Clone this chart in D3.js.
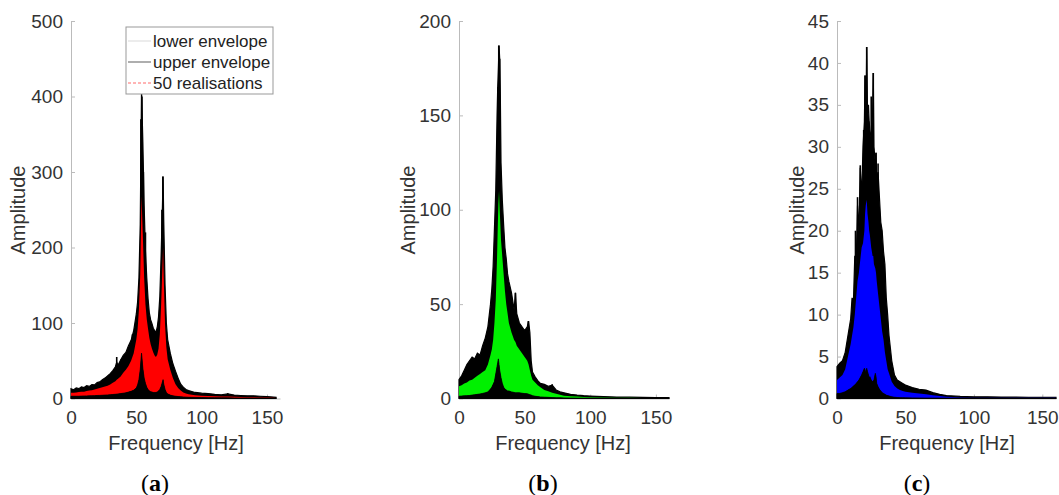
<!DOCTYPE html>
<html>
<head>
<meta charset="utf-8">
<script src="https://cdn.jsdelivr.net/npm/d3@7"></script>
<style>
  body { margin: 0; background: #fff; }
  svg { display: block; }
  .tick text { fill: #333; }
</style>
</head>
<body>
<div id="chart"></div>
<script>
// three spectra: envelopes + realisations

// panel (a)
var freqA  = [0,2,4,6,8,10,12,14,16,18,20,22,24,26,28,30,32,34,35,36,38,40,42,44,46,48,50,51,52,53,54,55,56,57,58,59,60,61,62,63,64,65,66,67,68,69,70,70.5,71,72,73,74,76,78,80,82,84,86,88,90,95,100,105,110,115,120,125,130,135,140,145,150,155,157];
var upperA = [13,11.5,14,13,15.5,14.5,17,16,18.5,18,21,22,25,27,30,33,37,42,48,44,51,57,61,70,77,90,112,128,160,230,410,340,255,195,160,132,113,104,99,93,90,88,94,108,135,190,255,294,235,150,100,78,60,46,36,27,19,15,12,10.5,8,7,6.5,5.5,5,6,4.5,4,3.5,3.5,3,2.5,2,1.5];
var fillA  = [7.5,7.5,8,8.5,9,9,10,10.5,11,12,13,14,15,16,17,18.5,21,23,25,26,29,34,38,43,50,60,78,92,118,165,268,215,160,125,105,92,80,72,66,61,57,55,58,66,85,125,175,200,160,98,68,52,38,27,19,14,10.5,8,6.5,5.5,4.2,3.5,3.2,3,2.8,2.6,2.3,2,1.8,1.6,1.4,1.2,1,0.8];
var lowerA = [3,3,3,3,3.2,3.3,3.4,3.5,3.6,3.8,4,4.1,4.3,4.5,4.7,5,5.3,5.6,5.8,6,6.5,7,7.5,8.5,9.5,11,14,18,25,38,60,40,27,20,15,12,10,9,8.5,8,8,8,8.5,10,12,16,22,25,19,12,8,6,4.5,3.5,3,2.6,2.3,2,1.8,1.6,1.4,1.2,1.1,1,0.9,0.9,0.8,0.7,0.7,0.6,0.6,0.5,0.5,0.4];
var spikeFreqA = [35,38.5,47,53.5,54.3,55.4,57,69.6,70.3,120];
var spikeAmpA  = [55,52,85,370,400,300,220,250,294,7];

// panel (b)
var freqB  = [0,2,4,6,8,10,12,14,16,18,20,22,24,25,26,27,28,29,29.5,30,30.5,31,31.5,32,33,34,35,36,37,38,40,42,43,44,46,48,50,52,53,54,55,56,58,60,62,65,68,71,74,77,80,85,90,95,100,110,120,130,140,150,160];
var upperB = [10,12,15,18,20,22,21,24,23,28,32,38,50,58,70,90,110,150,165,175,187,180,160,125,105,92,80,74,66,62,56,47,56,45,40,38,36,38,41,35,20,14,11.5,9.5,8,7.5,6.5,7,4.5,3.5,3,2.2,1.8,1.5,1.3,1,0.8,0.7,0.6,0.5,0.5];
var fillB  = [6.5,7,8,8.5,9.5,10,11,12,13,14,15,18,23,26,31,40,52,75,90,103,110,100,92,84,75,66,57,50,45,40,35,31,30,28,26,24,22,20,18,15,12,10,8.5,7,6,4.5,3.8,3,2.5,2,1.5,1.2,1,0.8,0.6,0.5,0.4,0.35,0.3,0.3,0.3];
var lowerB = [1.2,1.3,1.4,1.5,1.6,1.8,2,2.2,2.4,2.7,3,3.5,5,6,7.5,9,13,17,19,21,18,15,13,11,8,6,5,4.5,4,4,3.5,3.2,3,3,3,2.8,2.6,2.5,2.3,2,1.8,1.5,1.2,1,0.8,0.7,0.6,0.5,0.4,0.4,0.3,0.25,0.2,0.2,0.2,0.2,0.2,0.2,0.2,0.2,0.2];
var spikeFreqB = [29.8,30.3,31,43,52.8,71];
var spikeAmpB  = [165,187,180,56,41,7.5];

// panel (c)
var freqC  = [0,2,4,6,8,10,11,12,13,14,15,16,17,18,19,20,20.5,21,21.7,22.3,23,23.5,24,25,26,26.5,27,28,28.5,29,30,31,32,33,34,35,36,37,38,39,40,42,44,46,48,50,55,60,65,70,75,80,90,100,110,120,130,140,150,160];
var upperC = [3.8,4.2,4.5,5.5,7.5,9.5,12,11.5,17,16,23,20,27.5,24,30,33,38.5,30,41.9,34,35,33,32,31,34,38.8,30,28,29.3,26,27,24,21,20,17.5,16,12,10,7.5,6,4.5,2.8,2.2,2,1.8,1.6,1.3,1.1,1,0.7,0.5,0.35,0.25,0.2,0.2,0.18,0.16,0.15,0.15,0.15];
var fillC  = [2.2,2.5,2.8,3.5,5,6.5,7.5,8.5,10,12,14,15,16.5,18,18.5,20,22,23,23.7,22,21,20,19.5,18,17,17,16,15.5,15,14,12.5,11,9.5,8,7,5.5,4.5,3.5,3,2.5,2,1.5,1.2,1,0.9,0.8,0.7,0.6,0.5,0.4,0.3,0.2,0.12,0.1,0.1,0.09,0.09,0.08,0.08,0.08];
var lowerC = [0.6,0.6,0.7,0.8,1,1.2,1.3,1.5,1.6,1.8,2,2.2,2.5,2.8,3.2,3.6,3.4,3,3.6,3.2,2.8,2.5,2.6,2.2,2,2.1,2.2,3,2.6,1.8,1.4,1.1,0.9,0.7,0.6,0.5,0.4,0.35,0.3,0.25,0.2,0.15,0.12,0.1,0.1,0.08,0.07,0.06,0.05,0.05,0.05,0.05,0.05,0.05,0.05,0.05,0.05,0.05,0.05,0.05];
var spikeFreqC = [13.5,15,17,19.5,20.5,21.7,23.2,25,26.5,28.5,30];
var spikeAmpC  = [20,24,27.8,32,38.5,41.9,33,36,38.8,29.3,28];

// axis ticks and captions
var ticksA = [0,100,200,300,400,500];
var ticksB = [0,50,100,150,200];
var ticksC = [0,5,10,15,20,25,30,35,40,45];
var xTicks = [0,50,100,150];
var captions = ["a","b","c"];
var legendLabels = ["lower envelope","upper envelope","50 realisations"];

var svgWidth = 1059, svgHeight = 495;
var plotTop = 21, plotBottom = 398.5;

var svg = d3.select("#chart").append("svg")
  .attr("width", svgWidth)
  .attr("height", svgHeight)
  .style("background", "#fff");

var panels = [
  {freq: freqA, upper: upperA, fill: fillA, lower: lowerA, sf: spikeFreqA, sa: spikeAmpA,
   ticks: ticksA, yMax: 500, left: 71, right: 280, color: "#ff0000", ylab: 18, xlab: 176, cap: 155},
  {freq: freqB, upper: upperB, fill: fillB, lower: lowerB, sf: spikeFreqB, sa: spikeAmpB,
   ticks: ticksB, yMax: 200, left: 459, right: 669, color: "#00f000", ylab: 408, xlab: 563, cap: 543},
  {freq: freqC, upper: upperC, fill: fillC, lower: lowerC, sf: spikeFreqC, sa: spikeAmpC,
   ticks: ticksC, yMax: 45, left: 837, right: 1056, color: "#0000ff", ylab: 797, xlab: 947, cap: 917}
];

panels.forEach(function(p, i) {
  var x = d3.scaleLinear().domain([0, 160]).range([p.left, p.right]);
  var y = d3.scaleLinear().domain([0, p.yMax]).range([plotBottom, plotTop]);
  var g = svg.append("g");

  // axes first so the spectra sit on top of the baseline
  var yAxis = g.append("g")
    .attr("transform", `translate(${p.left},0)`)
    .call(d3.axisLeft(y).tickValues(p.ticks).tickSizeInner(-4).tickSizeOuter(0).tickPadding(8));
  var xAxis = g.append("g")
    .attr("transform", `translate(0,${plotBottom})`)
    .call(d3.axisBottom(x).tickValues(xTicks).tickSizeInner(-4).tickSizeOuter(0).tickPadding(12));
  [yAxis, xAxis].forEach(function(a) {
    a.selectAll("path, line").attr("stroke", "#bbb");
    a.selectAll("text")
      .attr("font-family", "'Liberation Sans', Arial, sans-serif")
      .attr("font-size", 19)
      .attr("fill", "#333");
  });

  var idx = d3.range(p.freq.length);

  // upper envelope (black band)
  g.append("path")
    .datum(idx)
    .attr("fill", "#000")
    .attr("stroke", "#000")
    .attr("stroke-width", 1.2)
    .attr("d", d3.area().x(k => x(p.freq[k])).y0(y(0)).y1(k => y(p.upper[k])));

  // spiky peaks of the upper envelope
  g.selectAll(".spike")
    .data(p.sf)
    .enter()
    .append("line")
    .attr("x1", d => x(d)).attr("x2", d => x(d))
    .attr("y1", y(0))
    .attr("y2", (d, k) => y(p.sa[k]))
    .attr("stroke", "#000")
    .attr("stroke-width", 1.6);

  // realisations
  g.append("path")
    .datum(idx)
    .attr("fill", p.color)
    .attr("d", d3.area().x(k => x(p.freq[k])).y0(k => y(p.lower[k])).y1(k => y(p.fill[k])));

  // lower envelope band
  g.append("path")
    .datum(idx)
    .attr("fill", "#000")
    .attr("stroke", "#000")
    .attr("stroke-width", 0.8)
    .attr("d", d3.area().x(k => x(p.freq[k])).y0(y(0)).y1(k => y(p.lower[k])));

  // axis labels
  g.append("text")
    .attr("transform", `translate(${p.ylab},210) rotate(-90)`)
    .attr("text-anchor", "middle")
    .attr("dy", "0.35em")
    .attr("font-family", "'Liberation Sans', Arial, sans-serif")
    .attr("font-size", 20)
    .attr("fill", "#333")
    .text("Amplitude");

  g.append("text")
    .attr("x", p.xlab)
    .attr("y", 450)
    .attr("text-anchor", "middle")
    .attr("font-family", "'Liberation Sans', Arial, sans-serif")
    .attr("font-size", 20)
    .attr("fill", "#333")
    .text("Frequency [Hz]");

  // sub-figure caption
  var cap = g.append("text")
    .attr("x", p.cap)
    .attr("y", 491)
    .attr("text-anchor", "middle")
    .attr("font-family", "'Liberation Serif', 'Times New Roman', serif")
    .attr("font-size", 24)
    .attr("fill", "#000");
  cap.append("tspan").text("(");
  cap.append("tspan").attr("font-weight", "bold").text(captions[i]);
  cap.append("tspan").text(")");
});

// legend on panel (a)
var legend = svg.append("g");
legend.append("rect")
  .attr("x", 126).attr("y", 27)
  .attr("width", 147).attr("height", 67)
  .attr("fill", "#fff")
  .attr("stroke", "#999")
  .attr("stroke-width", 1);

var legendStroke = ["#e0e0e0", "#777", "#ff6b6b"];
var legendDash = [null, null, "3,2"];
legendLabels.forEach(function(lbl, k) {
  var cy = 41 + k * 21;
  legend.append("line")
    .attr("x1", 128).attr("x2", 151)
    .attr("y1", cy).attr("y2", cy)
    .attr("stroke", legendStroke[k])
    .attr("stroke-width", 1.2)
    .attr("stroke-dasharray", legendDash[k]);
  legend.append("text")
    .attr("x", 153)
    .attr("y", cy)
    .attr("dy", "0.35em")
    .attr("font-family", "'Liberation Sans', Arial, sans-serif")
    .attr("font-size", 17)
    .attr("fill", "#222")
    .text(lbl);
});
</script>
</body>
</html>
